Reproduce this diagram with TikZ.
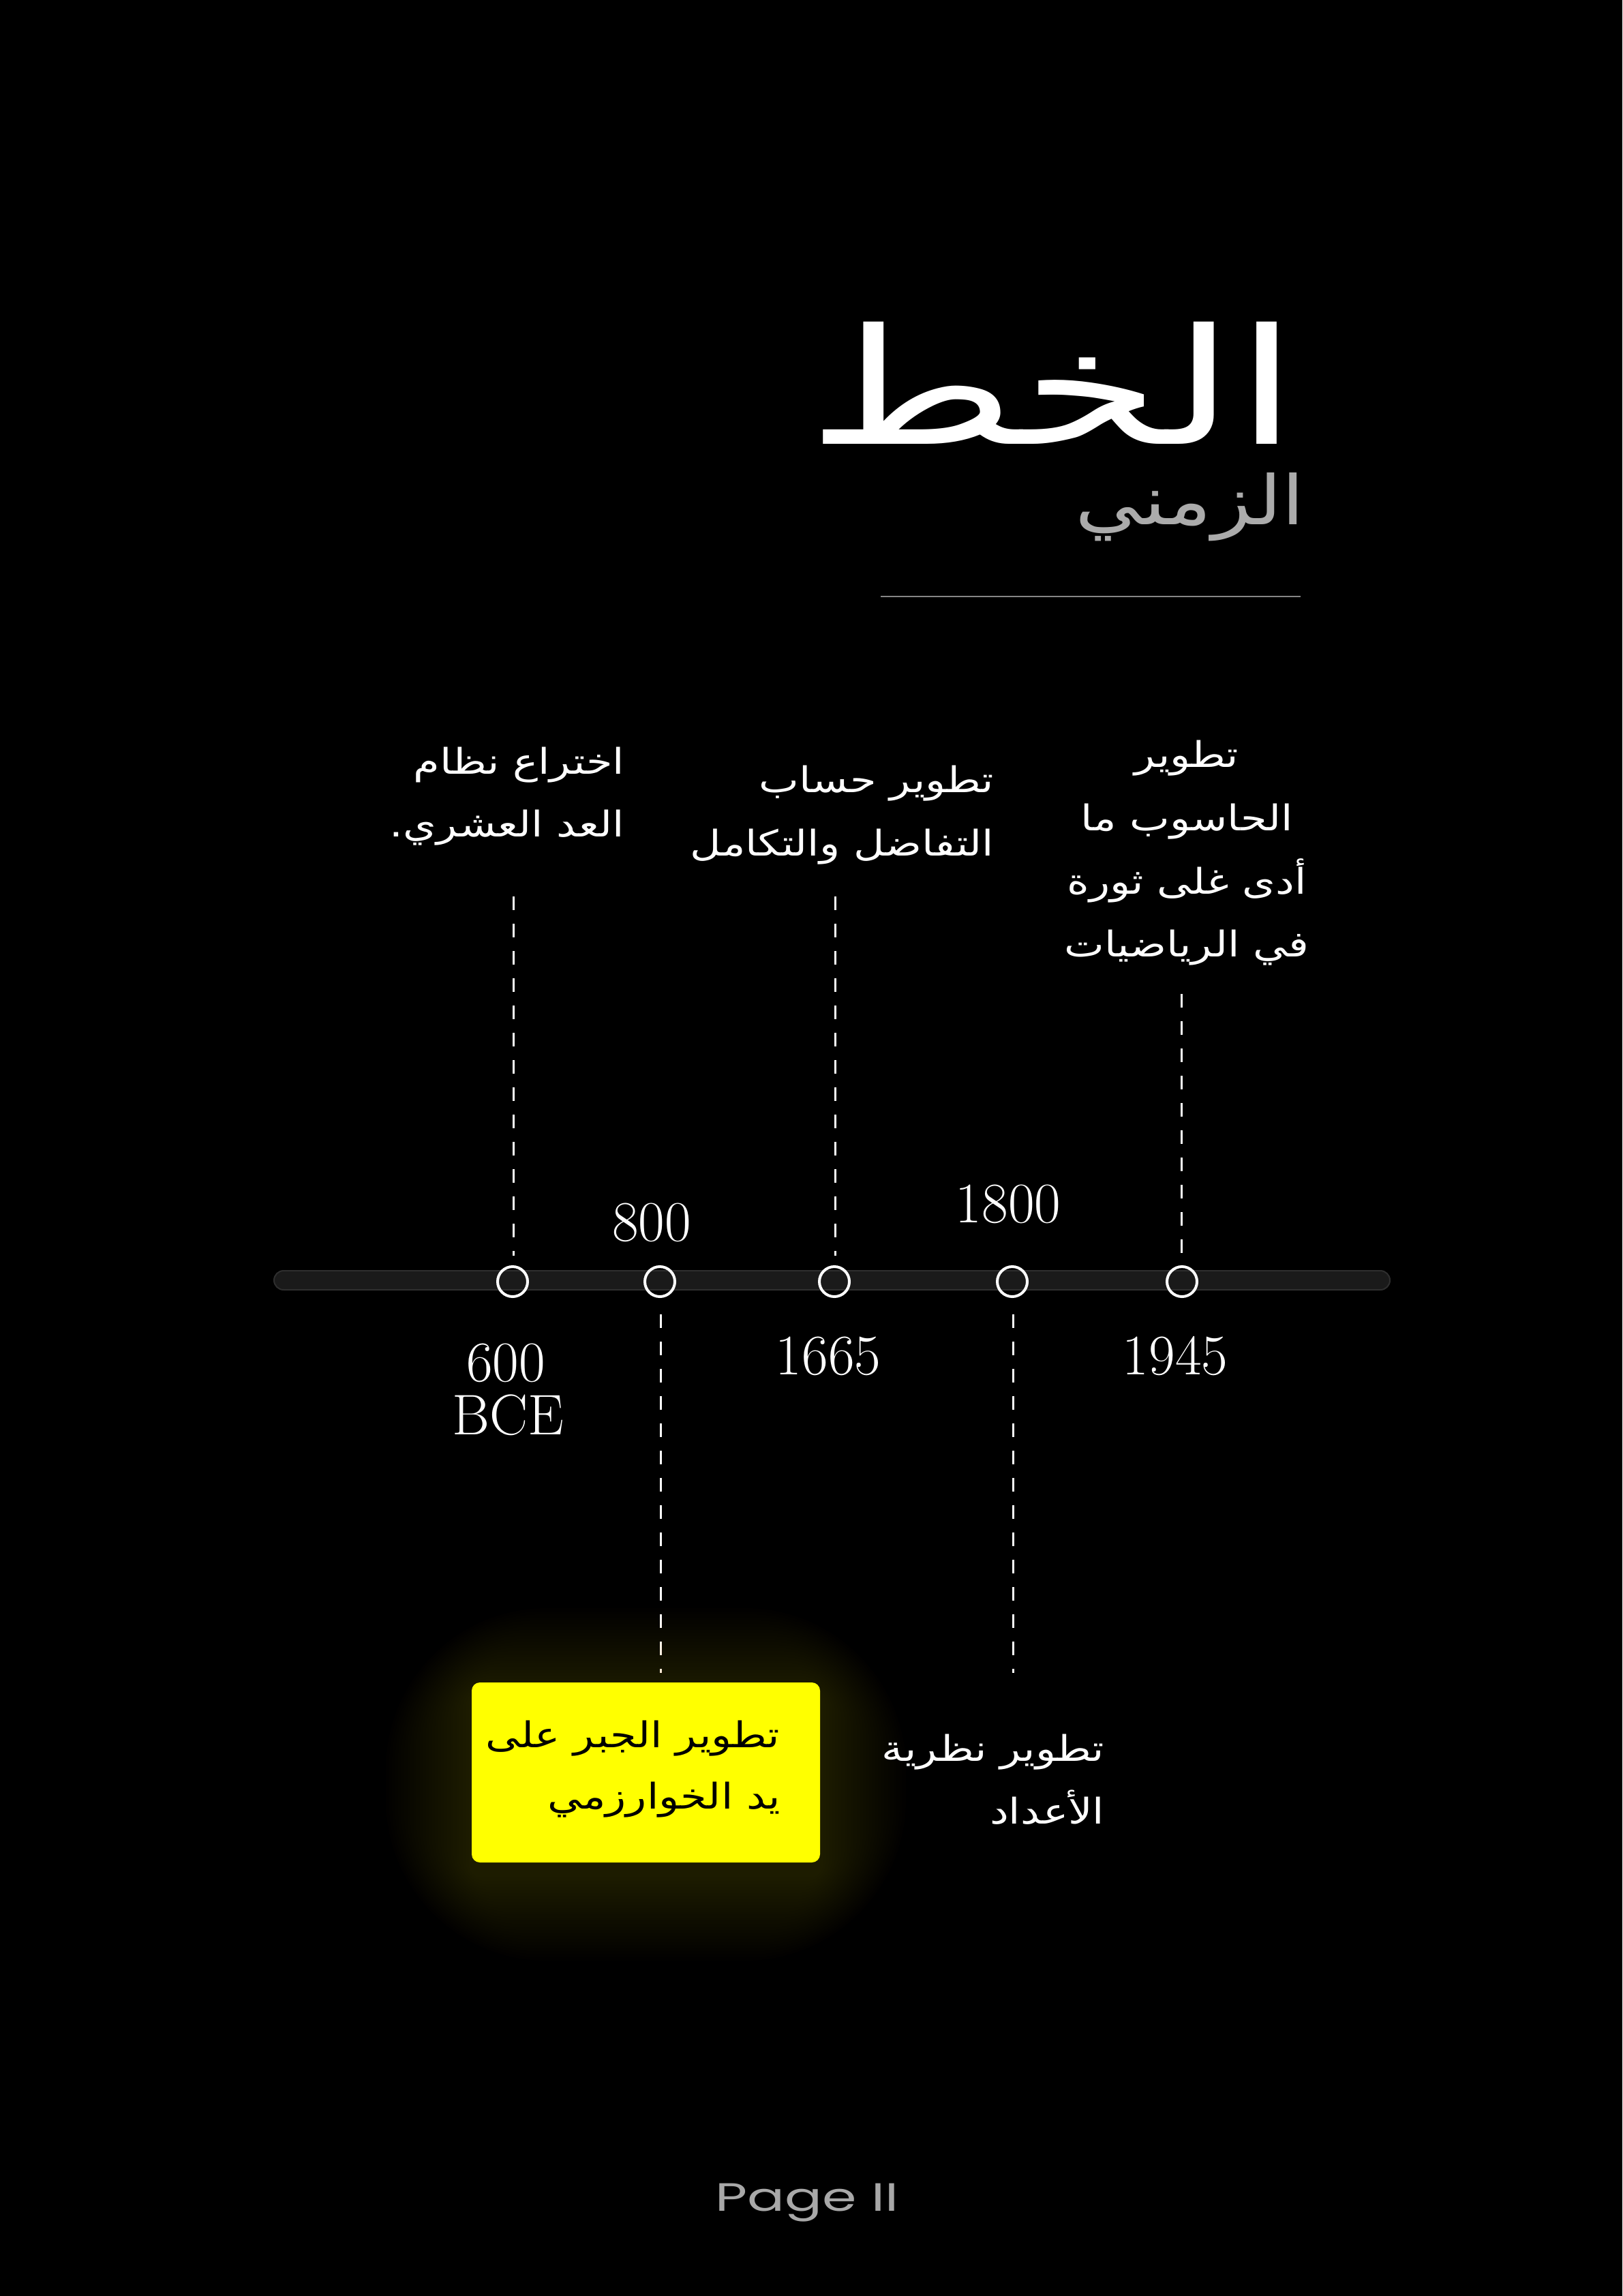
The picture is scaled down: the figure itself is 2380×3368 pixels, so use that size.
\documentclass[tikz,border=0pt]{standalone}
\usepackage{fontspec}
\TeXXeTstate=1
\newfontfamily\arfont[Script=Arabic,FakeStretch=1.2]{DejaVu Sans}
\newfontfamily\titlefont[Script=Arabic,FakeStretch=1.4]{DejaVu Sans}
\newfontfamily\subfont[Script=Arabic,FakeStretch=1.2]{DejaVu Sans}
\newfontfamily\pagefont[FakeStretch=1.4]{Poppins}
\definecolor{subgrey}{HTML}{ABABAB}
\definecolor{pagegrey}{HTML}{A8A8A8}
\definecolor{rulegrey}{HTML}{858585}
\definecolor{barfill}{HTML}{1A1A1A}
\definecolor{barline}{HTML}{2E2E2E}
\definecolor{boxyellow}{HTML}{FFFF00}
\definecolor{glowyellow}{HTML}{FFE600}
\begin{document}
\begin{tikzpicture}[x=0.25pt,y=-0.25pt,
  artext/.style={inner sep=0pt, font=\fontsize{13}{15}\arfont, text=white},
  yeartext/.style={inner sep=0pt, font=\fontsize{21}{24}\selectfont, text=white},
  dashline/.style={draw=white, line width=0.75pt, dash pattern=on 5pt off 5pt},
  dotnode/.style={circle, draw=white, line width=1pt, minimum size=11pt, inner sep=0pt},
  boxnode/.style={fill=boxyellow, rounded corners=3pt, minimum width=127.75pt, minimum height=66pt, inner sep=0pt}]
\useasboundingbox (0,0) rectangle (2380,3368);
\fill[black] (0,0) rectangle (2380,3368);

% title
\node[anchor=base east, inner sep=0pt, font=\fontsize{59}{59}\titlefont, text=white] (title) at (1905,652) {\raisebox{0pt}[\height][0pt]{\beginR الخط\endR}};
\node[anchor=base east, inner sep=0pt, font=\fontsize{25}{25}\subfont, text=subgrey] (subtitle) at (1915,770) {\raisebox{0pt}[0.75\height][\depth]{\beginR الزمني\endR}};
\coordinate (ruleL) at (1292,875);
\coordinate (ruleR) at (1908,875);
\draw[rulegrey, line width=0.5pt] (ruleL) -- (ruleR);

% upper texts
\node[artext, anchor=base east] (a1) at (917,1135) {\beginR اختراع نظام\endR};
\node[artext, anchor=base east] (a2) at (917,1227) {\beginR العد العشري.\endR};
\node[artext, anchor=base east] (b1) at (1459,1162) {\beginR تطوير حساب\endR};
\node[artext, anchor=base east] (b2) at (1459,1255) {\beginR التفاضل والتكامل\endR};
\node[artext, anchor=base] (c1) at (1741,1125) {\beginR تطوير\endR};
\node[artext, anchor=base] (c2) at (1741,1218) {\beginR الحاسوب ما\endR};
\node[artext, anchor=base] (c3) at (1741,1311) {\beginR أدى غلى ثورة\endR};
\node[artext, anchor=base] (c4) at (1741,1403) {\beginR في الرياضيات\endR};

% timeline bar
\draw[barline, fill=barfill, line width=0.5pt, rounded corners=3.5pt] (402,1864) rectangle (2039,1892);

% dots
\node[dotnode] (p1) at (752,1880) {};
\node[dotnode] (p2) at (968,1880) {};
\node[dotnode] (p3) at (1224,1880) {};
\node[dotnode] (p4) at (1485,1880) {};
\node[dotnode] (p5) at (1734,1880) {};

% dashed connectors
\coordinate (t1) at (753,1315);
\coordinate (t1b) at (753,1842);
\coordinate (t3) at (1225,1315);
\coordinate (t3b) at (1225,1842);
\coordinate (t5) at (1733,1458);
\coordinate (t5b) at (1733,1842);
\coordinate (t2) at (969,1928);
\coordinate (t2b) at (969,2454);
\coordinate (t4) at (1486,1928);
\coordinate (t4b) at (1486,2454);
\draw[dashline] (t1) -- (t1b);
\draw[dashline] (t3) -- (t3b);
\draw[dashline] (t5) -- (t5b);
\draw[dashline] (t2) -- (t2b);
\draw[dashline] (t4) -- (t4b);

% years
\node[yeartext, anchor=base] (y800) at (956,1820) {800};
\node[yeartext, anchor=base] (y1800) at (1479,1793) {1800};
\node[yeartext, anchor=base] (y600) at (742,2026) {600};
\node[yeartext, anchor=base] (ybce) at (745,2104) {BCE};
\node[yeartext, anchor=base] (y1665) at (1215,2016) {1665};
\node[yeartext, anchor=base] (y1945) at (1724,2016) {1945};

% glow
\foreach \i in {1,...,28}{
  \pgfmathsetmacro\g{\i*4.5}
  \pgfmathsetmacro\rc{3+\i*2}
  \fill[glowyellow, opacity=0.008, rounded corners=\rc pt] ({692-\g},{2485-\g}) rectangle ({1203+\g},{2750+\g});
}
\node[boxnode] (box) at (947.5,2600) {};
\node[artext, text=black, anchor=base east] (d1) at (1145,2563) {\beginR تطوير الجبر على\endR};
\node[artext, text=black, anchor=base east] (d2) at (1146,2653) {\beginR يد الخوارزمي\endR};

% lower right text
\node[artext, anchor=base east] (e1) at (1621,2583) {\beginR تطوير نظرية\endR};
\node[artext, anchor=base east] (e2) at (1621,2675) {\beginR الأعداد\endR};

% page
\node[anchor=base, inner sep=0pt, font=\fontsize{14.5}{16}\pagefont, text=pagegrey] (page) at (1184,3243) {Page II};
\end{tikzpicture}
\end{document}
